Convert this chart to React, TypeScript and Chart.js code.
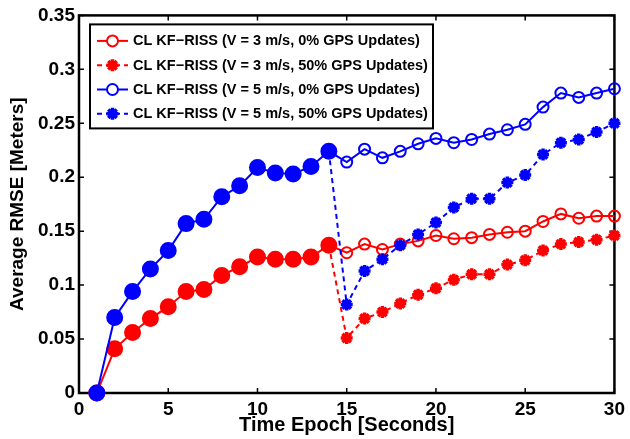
import React, { useEffect, useRef } from "react";
import { Chart, registerables } from "chart.js";
import { drawPoint } from "chart.js/helpers";

Chart.register(...registerables);

const epochs = [1, 2, 3, 4, 5, 6, 7, 8, 9, 10, 11, 12, 13, 14, 15, 16, 17, 18, 19, 20, 21, 22, 23, 24, 25, 26, 27, 28, 29, 30];

const v3Gps0 = [0, 0.041, 0.056, 0.069, 0.080, 0.094, 0.096, 0.109, 0.117, 0.126, 0.124, 0.124, 0.126, 0.137, 0.130, 0.138, 0.133, 0.138, 0.141, 0.146, 0.143, 0.144, 0.147, 0.149, 0.150, 0.159, 0.166, 0.162, 0.164, 0.164];
const v3Gps50 = [null, null, null, null, null, null, null, null, null, null, null, null, null, 0.137, 0.051, 0.069, 0.075, 0.083, 0.091, 0.097, 0.105, 0.110, 0.110, 0.119, 0.123, 0.132, 0.138, 0.140, 0.142, 0.146];
const v5Gps0 = [0, 0.070, 0.094, 0.115, 0.132, 0.157, 0.161, 0.182, 0.192, 0.209, 0.204, 0.203, 0.210, 0.224, 0.214, 0.226, 0.218, 0.224, 0.231, 0.236, 0.232, 0.235, 0.240, 0.244, 0.249, 0.265, 0.278, 0.274, 0.278, 0.282];
const v5Gps50 = [null, null, null, null, null, null, null, null, null, null, null, null, null, 0.224, 0.082, 0.113, 0.124, 0.137, 0.147, 0.158, 0.172, 0.180, 0.180, 0.195, 0.202, 0.221, 0.232, 0.235, 0.242, 0.250];

const seriesLabels = [
  "CL KF\u2212RISS (V = 3 m/s, 0% GPS Updates)",
  "CL KF\u2212RISS (V = 3 m/s, 50% GPS Updates)",
  "CL KF\u2212RISS (V = 5 m/s, 0% GPS Updates)",
  "CL KF\u2212RISS (V = 5 m/s, 50% GPS Updates)",
];

const xTicks = [0, 5, 10, 15, 20, 25, 30];
const xTickLabels = ["0", "5", "10", "15", "20", "25", "30"];
const yTicks = [0, 0.05, 0.1, 0.15, 0.2, 0.25, 0.3, 0.35];
const yTickLabels = ["0", "0.05", "0.1", "0.15", "0.2", "0.25", "0.3", "0.35"];
const xTitle = "Time Epoch [Seconds]";
const yTitle = "Average RMSE [Meters]";

const RED = "#ff0000";
const BLUE = "#0000ff";
const FONT = "'Liberation Sans', Arial, sans-serif";
const FILLED_COUNT = 14;

const toPoints = (vals: (number | null)[]) => epochs.map((e, i) => ({ x: e, y: vals[i] }));

const circleSeries = (label: string, vals: number[], color: string, order: number) => ({
  label,
  data: toPoints(vals),
  borderColor: color,
  backgroundColor: color,
  borderWidth: 2,
  pointStyle: "circle",
  pointRadius: (c: any) => (c.dataIndex < FILLED_COUNT ? 7.5 : 5.5),
  pointBorderWidth: 2,
  pointBorderColor: color,
  pointBackgroundColor: (c: any) => (c.dataIndex < FILLED_COUNT ? color : "rgba(0,0,0,0)"),
  clip: false,
  order,
  legendStyle: "circle",
});

const starSeries = (label: string, vals: (number | null)[], color: string, order: number) => ({
  label,
  data: toPoints(vals),
  borderColor: color,
  backgroundColor: color,
  borderWidth: 2,
  borderDash: [5, 4],
  pointStyle: "star",
  pointRadius: (c: any) => (c.dataIndex < FILLED_COUNT ? 0 : 6),
  pointBorderWidth: 3.5,
  pointBorderColor: color,
  pointBackgroundColor: color,
  spanGaps: false,
  clip: false,
  order,
  legendStyle: "star",
});

const framePlugin = {
  id: "frame",
  beforeDatasetsDraw(chart: any) {
    const { ctx, chartArea: a, scales } = chart;
    ctx.save();
    ctx.strokeStyle = "#000";
    ctx.lineWidth = 1.5;
    const tl = 5;
    ctx.beginPath();
    xTicks.forEach((v) => {
      const px = scales.x.getPixelForValue(v);
      ctx.moveTo(px, a.bottom);
      ctx.lineTo(px, a.bottom - tl);
      ctx.moveTo(px, a.top);
      ctx.lineTo(px, a.top + tl);
    });
    yTicks.forEach((v) => {
      const py = scales.y.getPixelForValue(v);
      ctx.moveTo(a.left, py);
      ctx.lineTo(a.left + tl, py);
      ctx.moveTo(a.right, py);
      ctx.lineTo(a.right - tl, py);
    });
    ctx.stroke();
    ctx.lineWidth = 2.5;
    ctx.strokeRect(a.left, a.top, a.right - a.left, a.bottom - a.top);
    ctx.restore();
  },
};

const legendPlugin = {
  id: "insideLegend",
  afterDatasetsDraw(chart: any) {
    const { ctx, chartArea: a } = chart;
    const x0 = a.left + 11;
    const y0 = a.top + 9;
    const w = 343;
    const h = 104;
    ctx.save();
    ctx.fillStyle = "#fff";
    ctx.fillRect(x0, y0, w, h);
    ctx.strokeStyle = "#000";
    ctx.lineWidth = 2;
    ctx.strokeRect(x0, y0, w, h);
    chart.data.datasets.forEach((ds: any, i: number) => {
      const cy = y0 + 16.5 + i * 24.3;
      ctx.save();
      ctx.strokeStyle = ds.borderColor;
      ctx.lineWidth = 2;
      ctx.setLineDash(ds.borderDash || []);
      ctx.beginPath();
      ctx.moveTo(x0 + 7, cy);
      ctx.lineTo(x0 + 38, cy);
      ctx.stroke();
      ctx.setLineDash([]);
      ctx.strokeStyle = ds.borderColor;
      if (ds.legendStyle === "circle") {
        ctx.fillStyle = "#fff";
        ctx.lineWidth = 2;
        drawPoint(ctx, { pointStyle: "circle", radius: 5.5, borderWidth: 2, rotation: 0 }, x0 + 22.5, cy);
      } else {
        ctx.fillStyle = ds.borderColor;
        ctx.lineWidth = 3.5;
        drawPoint(ctx, { pointStyle: "star", radius: 6, borderWidth: 3.5, rotation: 0 }, x0 + 22.5, cy);
      }
      ctx.restore();
      ctx.fillStyle = "#000";
      ctx.font = `bold 14.5px ${FONT}`;
      ctx.textBaseline = "middle";
      ctx.textAlign = "left";
      ctx.fillText(ds.label, x0 + 43, cy + 0.5);
    });
    ctx.restore();
  },
};

export default function App() {
  const ref = useRef<HTMLCanvasElement | null>(null);

  useEffect(() => {
    if (!ref.current) return;
    const chart = new Chart(ref.current, {
      type: "line",
      data: {
        datasets: [
          circleSeries(seriesLabels[0], v3Gps0, RED, 3),
          starSeries(seriesLabels[1], v3Gps50, RED, 2),
          circleSeries(seriesLabels[2], v5Gps0, BLUE, 1),
          starSeries(seriesLabels[3], v5Gps50, BLUE, 0),
        ] as any,
      },
      options: {
        animation: false,
        responsive: true,
        maintainAspectRatio: false,
        layout: { padding: { top: 12, right: 11, left: 0, bottom: 0 } },
        plugins: { legend: { display: false }, tooltip: { enabled: false } },
        scales: {
          x: {
            type: "linear",
            min: 0,
            max: 30,
            afterBuildTicks: (s: any) => {
              s.ticks = xTicks.map((v) => ({ value: v }));
            },
            afterFit: (s: any) => {
              s.height = 46;
            },
            grid: { display: false, drawTicks: false },
            border: { display: false },
            ticks: {
              color: "#000",
              font: { family: FONT, size: 19, weight: "bold" },
              padding: 5,
              maxRotation: 0,
              autoSkip: false,
              callback: (_v: any, i: number) => xTickLabels[i],
            },
            title: {
              display: true,
              text: xTitle,
              color: "#000",
              font: { family: FONT, size: 20, weight: "bold" },
              padding: { top: 0, bottom: 2 },
            },
          },
          y: {
            type: "linear",
            min: 0,
            max: 0.35,
            afterBuildTicks: (s: any) => {
              s.ticks = yTicks.map((v) => ({ value: v }));
            },
            afterFit: (s: any) => {
              s.width = 79;
            },
            grid: { display: false, drawTicks: false },
            border: { display: false },
            ticks: {
              color: "#000",
              font: { family: FONT, size: 19, weight: "bold" },
              padding: 4,
              autoSkip: false,
              callback: (_v: any, i: number) => yTickLabels[i],
            },
            title: {
              display: true,
              text: yTitle,
              color: "#000",
              font: { family: FONT, size: 19, weight: "bold" },
              padding: { top: 6, bottom: 0 },
            },
          },
        },
      } as any,
      plugins: [framePlugin, legendPlugin],
    });
    return () => chart.destroy();
  }, []);

  return (
    <div style={{ position: "absolute", left: 0, top: 0, width: 630, height: 439, background: "#fff" }}>
      <canvas ref={ref} />
    </div>
  );
}
